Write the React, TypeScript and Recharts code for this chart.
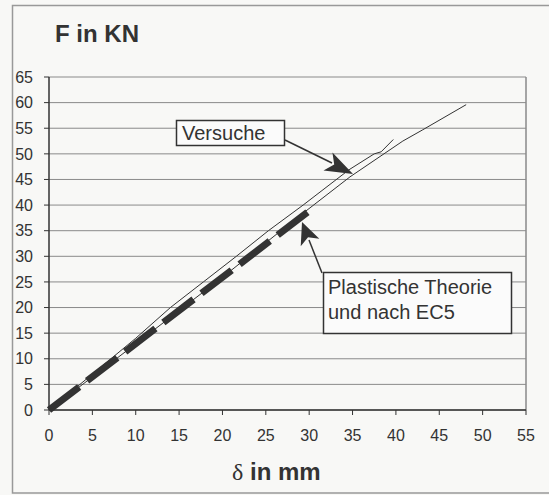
import React from "react";
import {
  LineChart,
  Line,
  XAxis,
  YAxis,
  CartesianGrid,
  ReferenceLine,
} from "recharts";

// Versuche, obere Kurve (δ in mm / F in kN)
const upperX = [0, 5, 10, 14, 17.8, 21.6, 25.3, 29.3, 34.6, 37.5, 38.3, 39.7];
const upperY = [0, 7, 14, 20, 25, 30, 35, 40, 46.9, 50, 50.4, 52.8];

// Versuche, untere Kurve
const lowerX = [0, 10, 20, 28.6, 34.7, 40.8, 43.1, 48.1];
const lowerY = [0, 12.9, 25.9, 37.5, 45.5, 52.5, 54.7, 59.6];

// Plastische Theorie und nach EC5
const theoryX = [0, 29.8];
const theoryY = [0, 38.6];

const xTicks = [0, 5, 10, 15, 20, 25, 30, 35, 40, 45, 50, 55];
const yTicks = [0, 5, 10, 15, 20, 25, 30, 35, 40, 45, 50, 55, 60, 65];

const toRows = (xs: number[], ys: number[]) =>
  xs.map((x, i) => ({ x, y: ys[i] }));

const upperData = toRows(upperX, upperY);
const lowerData = toRows(lowerX, lowerY);
const theoryData = toRows(theoryX, theoryY);

const FONT = '"Liberation Sans", Arial, sans-serif';
const INK = "#333";

// notched arrow head pointing from (x1,y1) to tip (x2,y2)
function arrowHead(x1: number, y1: number, x2: number, y2: number, len: number, half: number) {
  const dx = x2 - x1;
  const dy = y2 - y1;
  const d = Math.hypot(dx, dy);
  const ux = dx / d;
  const uy = dy / d;
  const bx = x2 - ux * len;
  const by = y2 - uy * len;
  const nx = bx + ux * len * 0.25;
  const ny = by + uy * len * 0.25;
  const px = -uy * half;
  const py = ux * half;
  return `${x2},${y2} ${bx + px},${by + py} ${nx},${ny} ${bx - px},${by - py}`;
}

export default function App() {
  return (
    <div
      style={{
        position: "absolute",
        left: 0,
        top: 0,
        width: 549,
        height: 495,
        background: "#f8f8f6",
        fontFamily: FONT,
      }}
    >
      <LineChart
        width={549}
        height={495}
        margin={{ top: 77, right: 23, left: 0, bottom: 55 }}
      >
        <CartesianGrid vertical={false} stroke="#8a8a8a" strokeWidth={1} />
        <XAxis
          type="number"
          dataKey="x"
          domain={[0, 55]}
          ticks={xTicks}
          interval={0}
          height={30}
          tickSize={5}
          tickMargin={15}
          axisLine={{ stroke: INK, strokeWidth: 1.5 }}
          tickLine={{ stroke: INK }}
          tick={{ fontSize: 16, fill: INK, fontFamily: FONT }}
        />
        <YAxis
          type="number"
          dataKey="y"
          domain={[0, 65]}
          ticks={yTicks}
          interval={0}
          width={49}
          tickSize={5}
          tickMargin={11}
          axisLine={{ stroke: INK, strokeWidth: 1.5 }}
          tickLine={{ stroke: INK }}
          tick={{ fontSize: 16, fill: INK, fontFamily: FONT }}
        />
        <ReferenceLine x={55} stroke="#8a8a8a" strokeWidth={1.5} />
        <Line
          data={theoryData}
          dataKey="y"
          stroke={INK}
          strokeWidth={7}
          strokeDasharray="38 10"
          dot={false}
          isAnimationActive={false}
        />
        <Line
          data={lowerData}
          dataKey="y"
          stroke={INK}
          strokeWidth={1}
          dot={false}
          isAnimationActive={false}
        />
        <Line
          data={upperData}
          dataKey="y"
          stroke={INK}
          strokeWidth={1}
          dot={false}
          isAnimationActive={false}
        />
      </LineChart>

      <svg
        width={549}
        height={495}
        style={{ position: "absolute", left: 0, top: 0, pointerEvents: "none" }}
      >
        <rect x={12.5} y={5.5} width={600} height={487.5} fill="none" stroke="#999" strokeWidth={1.5} />

        <text x={55} y={42} fontSize={24} fontWeight="bold" fill={INK} fontFamily={FONT}>
          F in KN
        </text>
        <text x={232} y={480} fontSize={24} fontWeight="bold" fill={INK} fontFamily={FONT}>
          <tspan fontWeight="normal" fontFamily='"Liberation Serif", "DejaVu Serif", serif'>δ</tspan> in mm
        </text>

        {/* Versuche */}
        <line x1={285} y1={140} x2={332} y2={163} stroke={INK} strokeWidth={1.5} />
        <polygon points={arrowHead(285, 140, 353, 174, 28, 10)} fill={INK} />
        <rect x={176.5} y={120.5} width={108} height={25} fill="#fbfbfb" stroke={INK} strokeWidth={1.5} />
        <text x={182} y={140} fontSize={20} fill={INK} fontFamily={FONT}>
          Versuche
        </text>

        {/* Plastische Theorie */}
        <line x1={322} y1={273} x2={309} y2={240} stroke={INK} strokeWidth={1.5} />
        <polygon points={arrowHead(322, 273, 302, 222, 22, 10)} fill={INK} />
        <rect x={323.5} y={272.5} width={188} height={61} fill="#fbfbfb" stroke={INK} strokeWidth={1.5} />
        <text x={328} y={293.5} fontSize={20} fill={INK} fontFamily={FONT}>
          Plastische Theorie
        </text>
        <text x={328} y={318.5} fontSize={20} fill={INK} fontFamily={FONT}>
          und nach EC5
        </text>
      </svg>
    </div>
  );
}
